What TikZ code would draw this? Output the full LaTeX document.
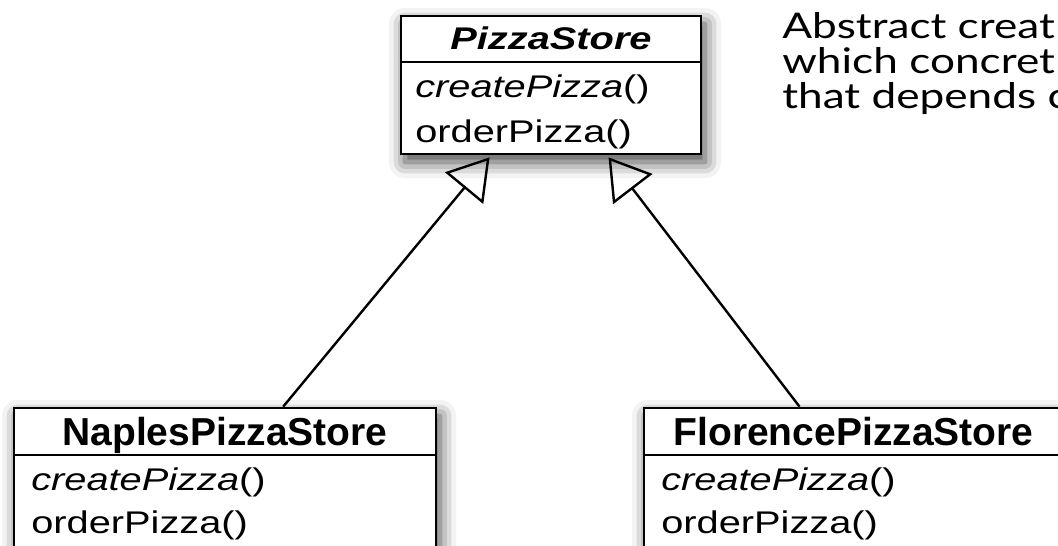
\documentclass[tikz,border=0pt]{standalone}
\usepackage{fontspec}
\newfontfamily\umlfont{Liberation Sans}[FakeStretch=1.27]
\newfontfamily\umlheadfont{Liberation Sans}
\newfontfamily\notefont{Lato}[FakeStretch=1.25]
\usetikzlibrary{arrows.meta,calc,positioning,shadows.blur}

\tikzset{
  classbox/.style={draw, line width=2pt, fill=white, inner sep=0pt,
    blur shadow={shadow xshift=3pt, shadow yshift=-6pt, shadow blur radius=12pt, shadow opacity=75}},
  classsep/.style={line width=2pt},
  abstracthead/.style={inner sep=0pt, text depth=0pt, font=\umlfont\fontsize{23.5pt}{28pt}\selectfont\bfseries\itshape},
  concretehead/.style={inner sep=0pt, text depth=0pt, font=\umlheadfont\fontsize{29.25pt}{35pt}\selectfont\bfseries},
  opline/.style={inner sep=0pt, anchor=base west, font=\umlfont\fontsize{23.5pt}{28pt}\selectfont},
  notetext/.style={inner sep=0pt, anchor=base west, font=\notefont\fontsize{26.5pt}{31pt}\selectfont},
  inherits/.style={line width=1.8pt, -{Triangle[open, length=30pt, width=37pt]}}
}

\begin{document}
\begin{tikzpicture}[x=0.75pt, y=-0.75pt]
  \useasboundingbox (0,0) rectangle (1058,546);
  \clip (0,0) rectangle (1058,546);

  % abstract creator
  \node[classbox, minimum width=225pt, minimum height=103.5pt] (store) at (551,85) {};
  \draw[classsep] (store.west |- 0,62) -- (store.east |- 0,62);
  \node[abstracthead] (storename) at (551,38.5) {PizzaStore};
  \node[opline] (storecreate) at (415,97) {\textit{createPizza}()};
  \node[opline] (storeorder) at (415,142) {orderPizza()};

  % concrete creators
  \node[classbox, minimum width=316.5pt, minimum height=106.5pt] (naples) at (225,479) {};
  \draw[classsep] (naples.west |- 0,455) -- (naples.east |- 0,455);
  \node[concretehead] (naplesname) at (225,431) {NaplesPizzaStore};
  \node[opline] (naplescreate) at (31,490) {\textit{createPizza}()};
  \node[opline] (naplesorder) at (31,533) {orderPizza()};

  \node[classbox, minimum width=314.25pt, minimum height=106.5pt] (florence) at (853.5,479) {};
  \draw[classsep] (florence.west |- 0,455) -- (florence.east |- 0,455);
  \node[concretehead] (florencename) at (853.5,431) {FlorencePizzaStore};
  \node[opline] (florencecreate) at (661,490) {\textit{createPizza}()};
  \node[opline] (florenceorder) at (661,533) {orderPizza()};

  % inheritance
  \draw[inherits] ($(naples.north west)!0.637!(naples.north east)$)
    -- ($(store.south west)!0.297!(store.south east)+(0,2)$);
  \draw[inherits] ($(florence.north west)!0.372!(florence.north east)$)
    -- ($(store.south west)!0.69!(store.south east)+(0,2)$);

  % note
  \node[notetext] (note1) at (782,38) {Abstract creat};
  \node[notetext] (note2) at (782,73) {which concret};
  \node[notetext] (note3) at (782,108) {that depends c};
\end{tikzpicture}
\end{document}
